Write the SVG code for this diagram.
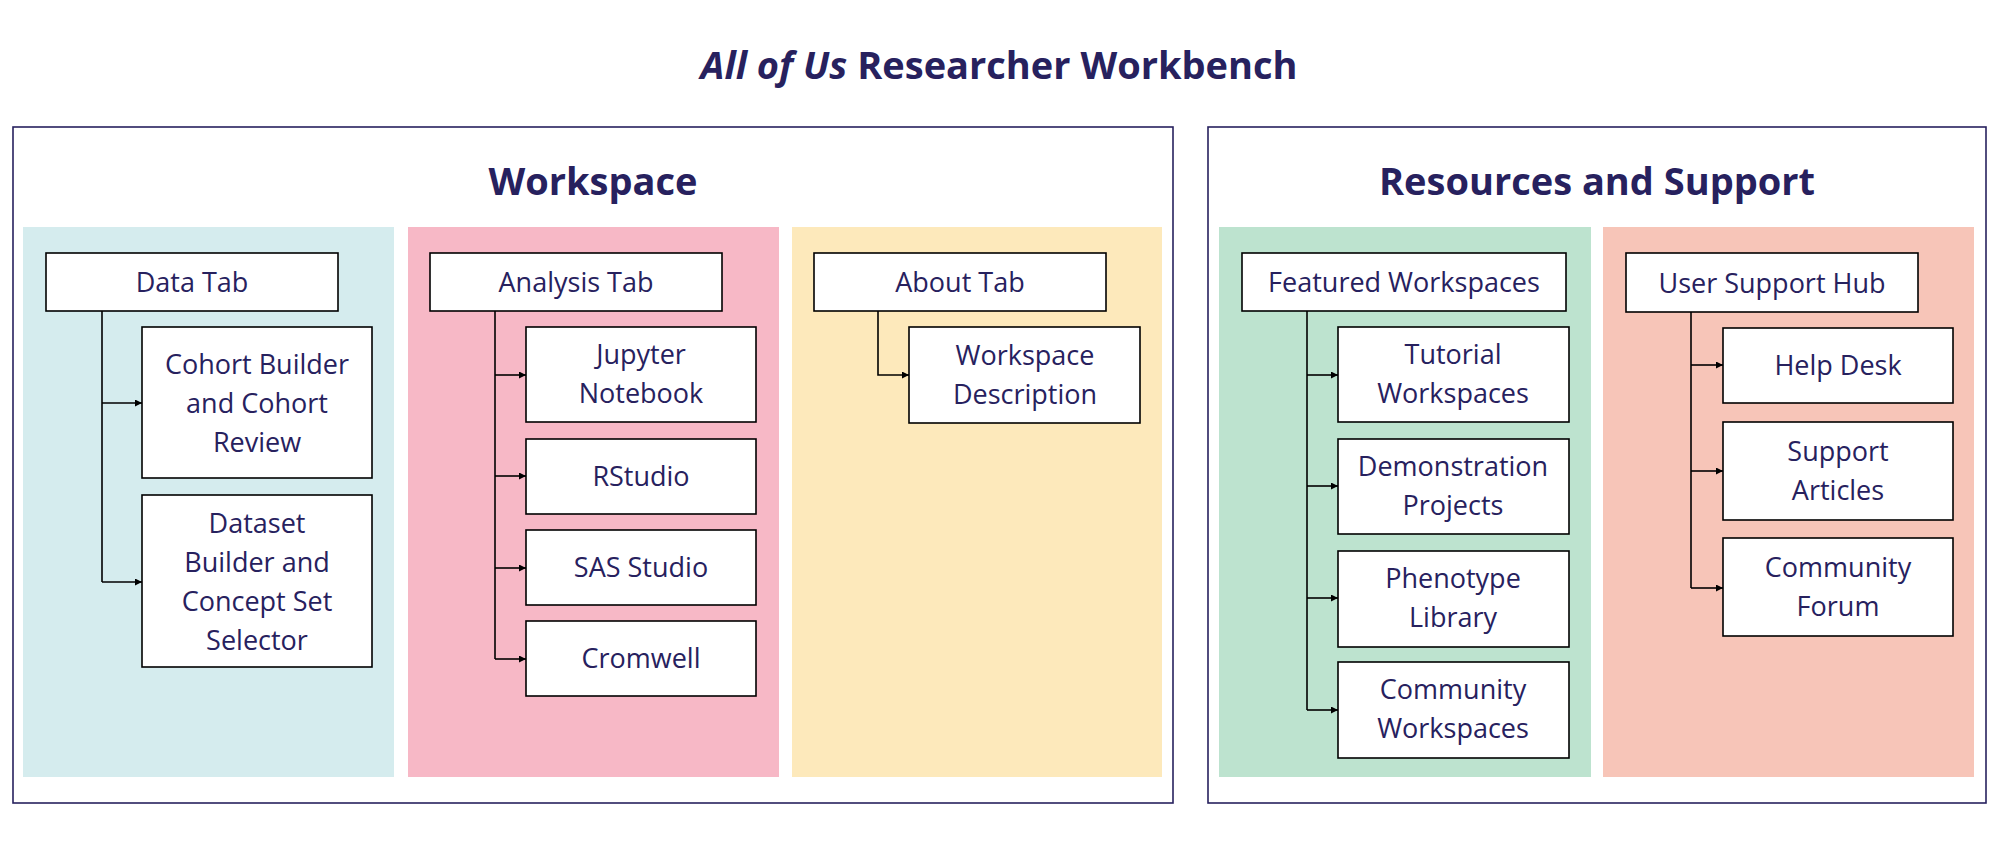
<svg xmlns="http://www.w3.org/2000/svg" width="2000" height="848" viewBox="0 0 2000 848">
<style>
text{font-family:"Open Sans","DejaVu Sans",sans-serif;fill:#27215e;text-anchor:middle}
.t{font-size:27px}
.h{font-size:38px;font-weight:bold}
.n{fill:#fff;stroke:#000;stroke-width:1.6}
.o{fill:#fff;stroke:#27215e;stroke-width:1.6}
.c{fill:none;stroke:#000;stroke-width:1.6}
</style>
<defs><marker id="a" viewBox="0 0 10 10" refX="10" refY="5" markerWidth="7" markerHeight="7" orient="auto" markerUnits="userSpaceOnUse"><path d="M0,0L10,5L0,10z" fill="#000"/></marker></defs>
<rect width="2000" height="848" fill="#fff"/>
<text x="999" y="79" class="h"><tspan font-style="italic">All of Us</tspan> Researcher Workbench</text>
<g id="workspace"><rect class="o" x="13" y="127" width="1160" height="676"/><text x="593" y="195" class="h">Workspace</text></g>
<g id="resources"><rect class="o" x="1208" y="127" width="778" height="676"/><text x="1597" y="195" class="h">Resources and Support</text></g>
<rect x="23" y="227" width="371" height="550" fill="#d5ecee"/>
<rect x="408" y="227" width="371" height="550" fill="#f7b8c6"/>
<rect x="792" y="227" width="370" height="550" fill="#fde9bb"/>
<rect x="1219" y="227" width="372" height="550" fill="#bde3cf"/>
<rect x="1603" y="227" width="371" height="550" fill="#f7c5b8"/>
<g id="connectors">
<path class="c" d="M102,311V582"/><path class="c" d="M102,403H142" marker-end="url(#a)"/><path class="c" d="M102,582H142" marker-end="url(#a)"/>
<path class="c" d="M495,311V659"/><path class="c" d="M495,375H526" marker-end="url(#a)"/><path class="c" d="M495,476H526" marker-end="url(#a)"/><path class="c" d="M495,568H526" marker-end="url(#a)"/><path class="c" d="M495,659H526" marker-end="url(#a)"/>
<path class="c" d="M878,311V375H909" marker-end="url(#a)"/>
<path class="c" d="M1307,311V710"/><path class="c" d="M1307,375H1338" marker-end="url(#a)"/><path class="c" d="M1307,486H1338" marker-end="url(#a)"/><path class="c" d="M1307,598H1338" marker-end="url(#a)"/><path class="c" d="M1307,710H1338" marker-end="url(#a)"/>
<path class="c" d="M1691,312V588"/><path class="c" d="M1691,365H1723" marker-end="url(#a)"/><path class="c" d="M1691,471H1723" marker-end="url(#a)"/><path class="c" d="M1691,588H1723" marker-end="url(#a)"/>
</g>
<g id="datatab"><rect class="n" x="46" y="253" width="292" height="58"/><text class="t" x="192" y="292">Data Tab</text></g>
<g id="cohort"><rect class="n" x="142" y="327" width="230" height="151"/><text class="t" x="257" y="374">Cohort Builder<tspan x="257" dy="39">and Cohort</tspan><tspan x="257" dy="39">Review</tspan></text></g>
<g id="dataset"><rect class="n" x="142" y="495" width="230" height="172"/><text class="t" x="257" y="533">Dataset<tspan x="257" dy="39">Builder and</tspan><tspan x="257" dy="39">Concept Set</tspan><tspan x="257" dy="39">Selector</tspan></text></g>
<g id="analysistab"><rect class="n" x="430" y="253" width="292" height="58"/><text class="t" x="576" y="292">Analysis Tab</text></g>
<g id="jupyter"><rect class="n" x="526" y="327" width="230" height="95"/><text class="t" x="641" y="364">Jupyter<tspan x="641" dy="39">Notebook</tspan></text></g>
<g id="rstudio"><rect class="n" x="526" y="439" width="230" height="75"/><text class="t" x="641" y="486">RStudio</text></g>
<g id="sas"><rect class="n" x="526" y="530" width="230" height="75"/><text class="t" x="641" y="577">SAS Studio</text></g>
<g id="cromwell"><rect class="n" x="526" y="621" width="230" height="75"/><text class="t" x="641" y="668">Cromwell</text></g>
<g id="abouttab"><rect class="n" x="814" y="253" width="292" height="58"/><text class="t" x="960" y="292">About Tab</text></g>
<g id="wsdesc"><rect class="n" x="909" y="327" width="231" height="96"/><text class="t" x="1025" y="365">Workspace<tspan x="1025" dy="39">Description</tspan></text></g>
<g id="featured"><rect class="n" x="1242" y="253" width="324" height="58"/><text class="t" x="1404" y="292">Featured Workspaces</text></g>
<g id="tutorial"><rect class="n" x="1338" y="327" width="231" height="95"/><text class="t" x="1453" y="364">Tutorial<tspan x="1453" dy="39">Workspaces</tspan></text></g>
<g id="demo"><rect class="n" x="1338" y="439" width="231" height="95"/><text class="t" x="1453" y="476">Demonstration<tspan x="1453" dy="39">Projects</tspan></text></g>
<g id="pheno"><rect class="n" x="1338" y="551" width="231" height="96"/><text class="t" x="1453" y="588">Phenotype<tspan x="1453" dy="39">Library</tspan></text></g>
<g id="commws"><rect class="n" x="1338" y="662" width="231" height="96"/><text class="t" x="1453" y="699">Community<tspan x="1453" dy="39">Workspaces</tspan></text></g>
<g id="usersupport"><rect class="n" x="1626" y="253" width="292" height="59"/><text class="t" x="1772" y="293">User Support Hub</text></g>
<g id="helpdesk"><rect class="n" x="1723" y="328" width="230" height="75"/><text class="t" x="1838" y="375">Help Desk</text></g>
<g id="articles"><rect class="n" x="1723" y="422" width="230" height="98"/><text class="t" x="1838" y="461">Support<tspan x="1838" dy="39">Articles</tspan></text></g>
<g id="forum"><rect class="n" x="1723" y="538" width="230" height="98"/><text class="t" x="1838" y="577">Community<tspan x="1838" dy="39">Forum</tspan></text></g>
</svg>
